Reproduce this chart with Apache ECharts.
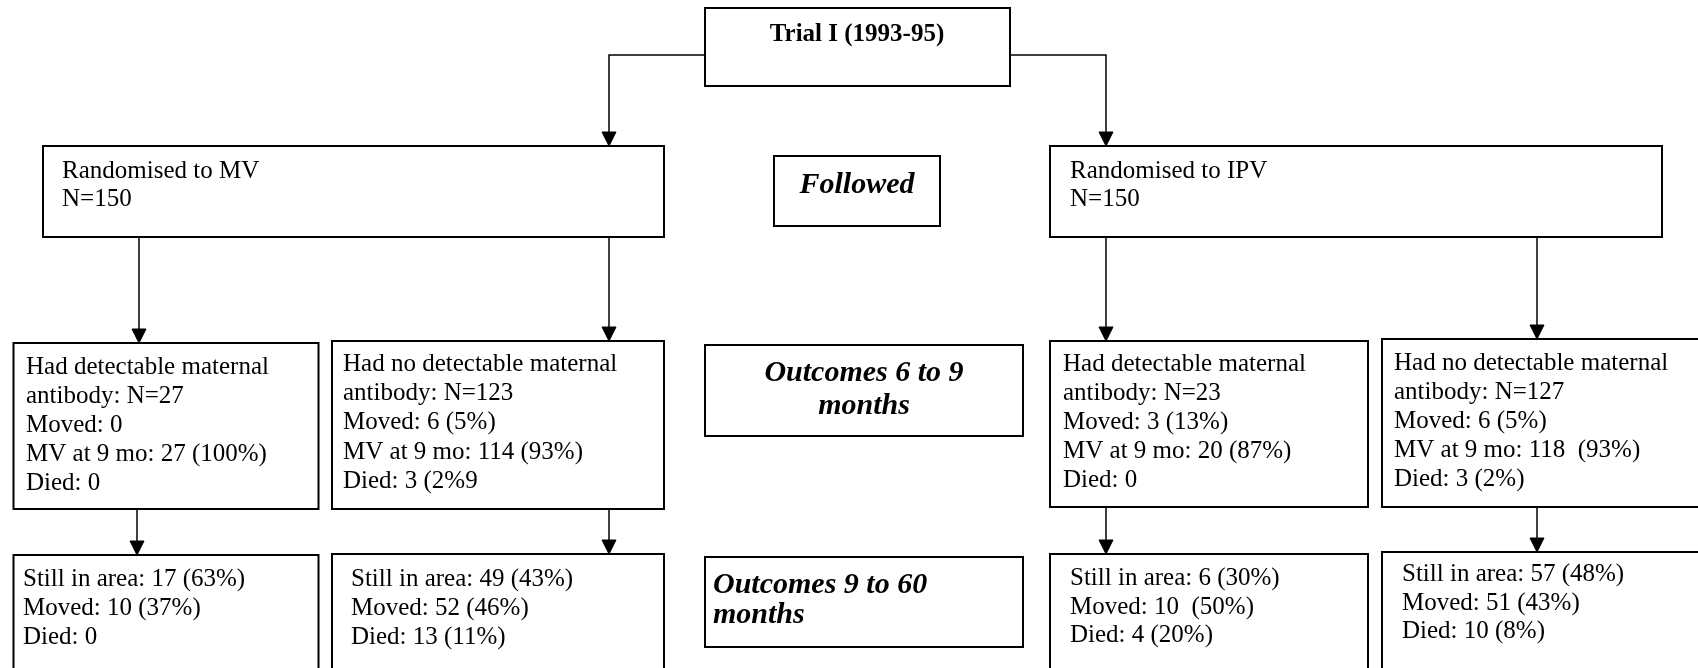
<!DOCTYPE html>
<html>
<head>
<meta charset="utf-8">
<script src="https://cdn.jsdelivr.net/npm/echarts@6/dist/echarts.min.js"></script>
<style>
  html, body { margin: 0; padding: 0; background: #fff; }
  #chart { width: 1698px; height: 668px; }
</style>
</head>
<body>
<div id="chart"></div>
<script>
  // texts of the flow chart
  const trialLabel = ['Trial I (1993-95)'];
  const armMV = ['Randomised to MV', 'N=150'];
  const armIPV = ['Randomised to IPV', 'N=150'];
  const stageFollowed = ['Followed'];
  const stage6to9 = ['Outcomes 6 to 9', 'months'];
  const stage9to60 = ['Outcomes 9 to 60', 'months'];
  const mvDetectable = ['Had detectable maternal', 'antibody: N=27', 'Moved: 0', 'MV at 9 mo: 27 (100%)', 'Died: 0'];
  const mvNoDetectable = ['Had no detectable maternal', 'antibody: N=123', 'Moved: 6 (5%)', 'MV at 9 mo: 114 (93%)', 'Died: 3 (2%9'];
  const ipvDetectable = ['Had detectable maternal', 'antibody: N=23', 'Moved: 3 (13%)', 'MV at 9 mo: 20 (87%)', 'Died: 0'];
  const ipvNoDetectable = ['Had no detectable maternal', 'antibody: N=127', 'Moved: 6 (5%)', 'MV at 9 mo: 118  (93%)', 'Died: 3 (2%)'];
  const mvDetectableLater = ['Still in area: 17 (63%)', 'Moved: 10 (37%)', 'Died: 0'];
  const mvNoDetectableLater = ['Still in area: 49 (43%)', 'Moved: 52 (46%)', 'Died: 13 (11%)'];
  const ipvDetectableLater = ['Still in area: 6 (30%)', 'Moved: 10  (50%)', 'Died: 4 (20%)'];
  const ipvNoDetectableLater = ['Still in area: 57 (48%)', 'Moved: 51 (43%)', 'Died: 10 (8%)'];

  // layout (page pixels)
  const REG = '25px "Liberation Serif", "Times New Roman", serif';
  const BOLD = 'bold 25px "Liberation Serif", "Times New Roman", serif';
  const BI = 'italic bold 30px "Liberation Serif", "Times New Roman", serif';

  const boxes = [
    {x: 705, y: 8, w: 305, h: 78, tx: 857, ty: 43, lh: 29, font: BOLD, size: 25, align: 'center', lines: trialLabel},
    {x: 43, y: 146, w: 621, h: 91, tx: 62, ty: 180, lh: 28, font: REG, size: 25, align: 'left', lines: armMV},
    {x: 774, y: 156, w: 166, h: 70, tx: 857, ty: 195, lh: 30, font: BI, size: 30, align: 'center', lines: stageFollowed},
    {x: 1050, y: 146, w: 612, h: 91, tx: 1070, ty: 180, lh: 28, font: REG, size: 25, align: 'left', lines: armIPV},
    {x: 13.5, y: 343, w: 305, h: 166, tx: 26, ty: 376, lh: 29, font: REG, size: 25, align: 'left', lines: mvDetectable},
    {x: 332, y: 341, w: 332, h: 168, tx: 343, ty: 373, lh: 29.2, font: REG, size: 25, align: 'left', lines: mvNoDetectable},
    {x: 705, y: 345, w: 318, h: 91, tx: 864, ty: 383, lh: 33, font: BI, size: 30, align: 'center', lines: stage6to9},
    {x: 1050, y: 341, w: 318, h: 166, tx: 1063, ty: 373, lh: 29, font: REG, size: 25, align: 'left', lines: ipvDetectable},
    {x: 1382, y: 339, w: 340, h: 168, tx: 1394, ty: 372, lh: 29, font: REG, size: 25, align: 'left', lines: ipvNoDetectable},
    {x: 13.5, y: 555, w: 305, h: 140, tx: 23, ty: 588, lh: 29, font: REG, size: 25, align: 'left', lines: mvDetectableLater},
    {x: 332, y: 554, w: 332, h: 140, tx: 351, ty: 588, lh: 29, font: REG, size: 25, align: 'left', lines: mvNoDetectableLater},
    {x: 705, y: 557, w: 318, h: 90, tx: 713, ty: 595, lh: 30, font: BI, size: 30, align: 'left', lines: stage9to60},
    {x: 1050, y: 554, w: 318, h: 140, tx: 1070, ty: 587, lh: 28.5, font: REG, size: 25, align: 'left', lines: ipvDetectableLater},
    {x: 1382, y: 552, w: 340, h: 140, tx: 1402, ty: 583, lh: 28.5, font: REG, size: 25, align: 'left', lines: ipvNoDetectableLater}
  ];

  const arrows = [
    [[705, 55], [609, 55], [609, 146]],
    [[1010, 55], [1106, 55], [1106, 146]],
    [[139, 237], [139, 343]],
    [[609, 237], [609, 341]],
    [[1106, 237], [1106, 341]],
    [[1537, 237], [1537, 339]],
    [[137, 509], [137, 555]],
    [[609, 509], [609, 554]],
    [[1106, 507], [1106, 554]],
    [[1537, 505], [1537, 552]]
  ];

  const chart = echarts.init(document.getElementById('chart'));

  const option = {
    animation: false,
    backgroundColor: '#ffffff',
    grid: {left: 0, right: 0, top: 0, bottom: 0},
    xAxis: {type: 'value', min: 0, max: 1698, show: false},
    yAxis: {type: 'value', min: 0, max: 668, inverse: true, show: false},
    series: [
      {
        type: 'custom',
        coordinateSystem: 'cartesian2d',
        clip: false,
        data: arrows.map(function (a, i) { return [i]; }),
        renderItem: function (params, api) {
          const pts = arrows[params.dataIndex].map(function (p) { return api.coord(p); });
          const tip = pts[pts.length - 1];
          const prev = pts[pts.length - 2];
          const dx = tip[0] - prev[0], dy = tip[1] - prev[1];
          const len = Math.sqrt(dx * dx + dy * dy);
          const ux = dx / len, uy = dy / len;
          const hl = 14, hw = 7;
          const base = [tip[0] - ux * hl, tip[1] - uy * hl];
          const line = pts.slice(0, -1).concat([base]);
          return {
            type: 'group',
            children: [
              {type: 'polyline', shape: {points: line}, style: {stroke: '#000', lineWidth: 1.5, fill: null}},
              {type: 'polygon', shape: {points: [tip, [base[0] - uy * hw, base[1] + ux * hw], [base[0] + uy * hw, base[1] - ux * hw]]},
                style: {fill: '#000', stroke: '#000', lineWidth: 1}}
            ]
          };
        }
      },
      {
        type: 'custom',
        coordinateSystem: 'cartesian2d',
        clip: false,
        data: boxes.map(function (b, i) { return [i]; }),
        renderItem: function (params, api) {
          const b = boxes[params.dataIndex];
          const p0 = api.coord([b.x, b.y]);
          const p1 = api.coord([b.x + b.w, b.y + b.h]);
          const children = [{
            type: 'rect',
            shape: {x: p0[0], y: p0[1], width: p1[0] - p0[0], height: p1[1] - p0[1]},
            style: {fill: '#fff', stroke: '#000', lineWidth: 2}
          }];
          b.lines.forEach(function (t, i) {
            const pt = api.coord([b.tx, b.ty + i * b.lh - 0.34 * b.size]);
            children.push({
              type: 'text',
              style: {text: t, x: pt[0], y: pt[1], font: b.font, fill: '#000', align: b.align, verticalAlign: 'middle'}
            });
          });
          return {type: 'group', children: children};
        }
      }
    ]
  };

  chart.setOption(option);
  window.addEventListener('resize', function () { chart.resize(); });
</script>
</body>
</html>
